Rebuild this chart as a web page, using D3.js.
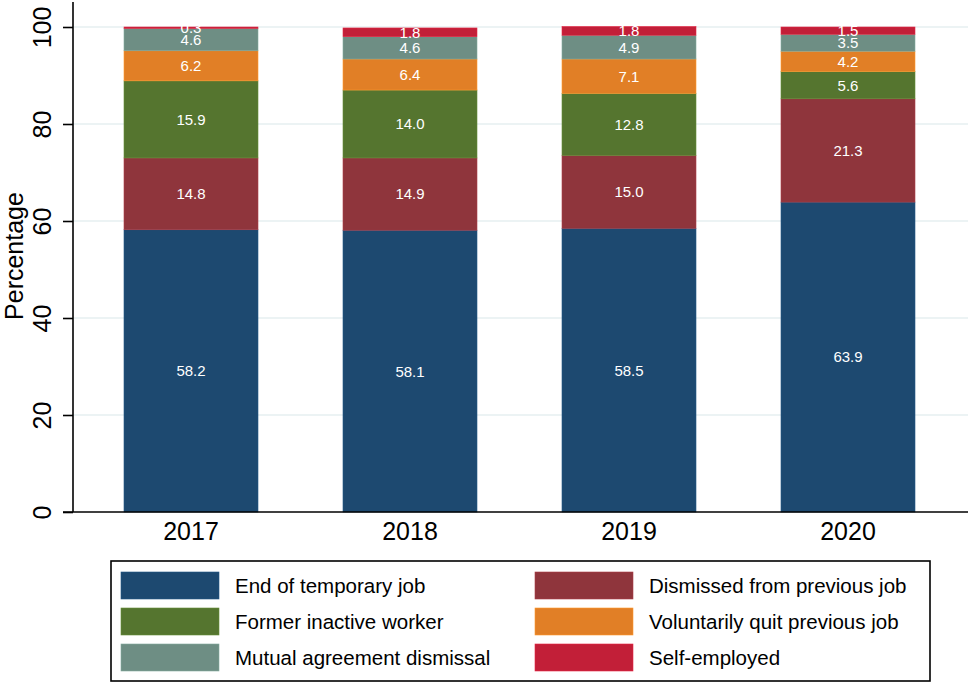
<!DOCTYPE html>
<html>
<head>
<meta charset="utf-8">
<script src="https://cdn.jsdelivr.net/npm/d3@7"></script>
<style>
  html, body { margin: 0; padding: 0; background: #fff; }
  svg { display: block; font-family: "Liberation Sans", Arial, sans-serif; }
</style>
</head>
<body>
<svg id="chart" width="968" height="683"></svg>
<script>
// ---- data ----
const years = ["2017", "2018", "2019", "2020"];
const seriesNames = [
  "End of temporary job",
  "Dismissed from previous job",
  "Former inactive worker",
  "Voluntarily quit previous job",
  "Mutual agreement dismissal",
  "Self-employed"
];
const endTemporary   = [58.2, 58.1, 58.5, 63.9];
const dismissed      = [14.8, 14.9, 15.0, 21.3];
const formerInactive = [15.9, 14.0, 12.8, 5.6];
const voluntaryQuit  = [6.2, 6.4, 7.1, 4.2];
const mutualAgree    = [4.6, 4.6, 4.9, 3.5];
const selfEmployed   = [0.3, 1.8, 1.8, 1.5];
const yTicks = [0, 20, 40, 60, 80, 100];
const colors = ["#1d4970", "#8f353c", "#55752f", "#e17f26", "#6e8e84", "#c21f38"];

(function () {
const seriesValues = [endTemporary, dismissed, formerInactive, voluntaryQuit, mutualAgree, selfEmployed];
const table = years.map((yr, i) => {
  const row = { year: yr };
  seriesNames.forEach((s, k) => row[s] = seriesValues[k][i]);
  return row;
});

// ---- layout ----
const svg = d3.select("#chart");
const pLeft = 73, pRight = 968, pTop = 27, pBottom = 512;

const xc = d3.scalePoint().domain(years).range([191, 848]);
const barW = 134;
const y = d3.scaleLinear().domain([0, 100]).range([pBottom, pTop]);

// gridlines
svg.append("g").selectAll("line").data(yTicks.filter(t => t > 0)).join("line")
  .attr("x1", pLeft).attr("x2", pRight)
  .attr("y1", d => y(d)).attr("y2", d => y(d))
  .attr("stroke", "#e6eff1").attr("stroke-width", 1.6);

// stacked bars
const stacked = d3.stack().keys(seriesNames)(table);

const gBars = svg.append("g");
stacked.forEach((layer, k) => {
  gBars.append("g").selectAll("rect").data(layer).join("rect")
    .attr("x", d => xc(d.data.year) - barW / 2)
    .attr("width", barW)
    .attr("y", d => y(d[1]))
    .attr("height", d => y(d[0]) - y(d[1]))
    .attr("fill", colors[k])
    .attr("stroke", d3.color(colors[k]).brighter(0.5))
    .attr("stroke-width", 0.6);
});

// labels
stacked.forEach((layer, k) => {
  gBars.append("g").selectAll("text").data(layer).join("text")
    .attr("x", d => xc(d.data.year))
    .attr("y", d => (y(d[0]) + y(d[1])) / 2)
    .attr("dy", "0.36em")
    .attr("text-anchor", "middle")
    .attr("font-size", 15)
    .attr("fill", "#ffffff")
    .text(d => seriesValues[k][years.indexOf(d.data.year)].toFixed(1));
});

// y axis
const yAxis = d3.axisLeft(y).tickValues(yTicks).tickSize(10).tickSizeOuter(0).tickFormat(d3.format("d"));
const gy = svg.append("g").attr("transform", `translate(${pLeft},0)`).call(yAxis);
gy.select(".domain").remove();
gy.selectAll(".tick line").attr("stroke", "#000").attr("stroke-width", 1.6);
gy.selectAll(".tick text")
  .attr("x", null).attr("dy", null)
  .attr("transform", "translate(-22,0) rotate(-90)")
  .attr("text-anchor", "middle")
  .attr("font-size", 25)
  .attr("fill", "#000")
  .attr("font-family", "Liberation Sans, Arial, sans-serif");
svg.append("line").attr("x1", pLeft).attr("x2", pLeft).attr("y1", 2).attr("y2", pBottom)
  .attr("stroke", "#000").attr("stroke-width", 1.6);

// x axis
svg.append("line").attr("x1", pLeft - 10).attr("x2", pRight).attr("y1", pBottom).attr("y2", pBottom)
  .attr("stroke", "#000").attr("stroke-width", 1.6);
svg.append("g").selectAll("text").data(years).join("text")
  .attr("x", d => xc(d)).attr("y", 540)
  .attr("text-anchor", "middle").attr("font-size", 25).attr("fill", "#000")
  .text(d => d);

// y title
svg.append("text")
  .attr("transform", `translate(23,${pBottom / 2}) rotate(-90)`)
  .attr("text-anchor", "middle").attr("font-size", 25).attr("fill", "#000")
  .text("Percentage");

// legend
const lg = svg.append("g");
lg.append("rect").attr("x", 111).attr("y", 561).attr("width", 819).attr("height", 120)
  .attr("fill", "#fff").attr("stroke", "#000").attr("stroke-width", 1.6);
seriesNames.forEach((name, i) => {
  const col = i % 2, row = Math.floor(i / 2);
  const sx = col === 0 ? 121 : 535;
  const sy = 572 + row * 36;
  lg.append("rect").attr("x", sx).attr("y", sy).attr("width", 98).attr("height", 27)
    .attr("fill", colors[i]).attr("stroke", d3.color(colors[i]).brighter(0.5)).attr("stroke-width", 0.6);
  lg.append("text").attr("x", sx + 114).attr("y", sy + 21)
    .attr("font-size", 20.5).attr("fill", "#000").text(name);
});
})();
</script>
</body>
</html>
